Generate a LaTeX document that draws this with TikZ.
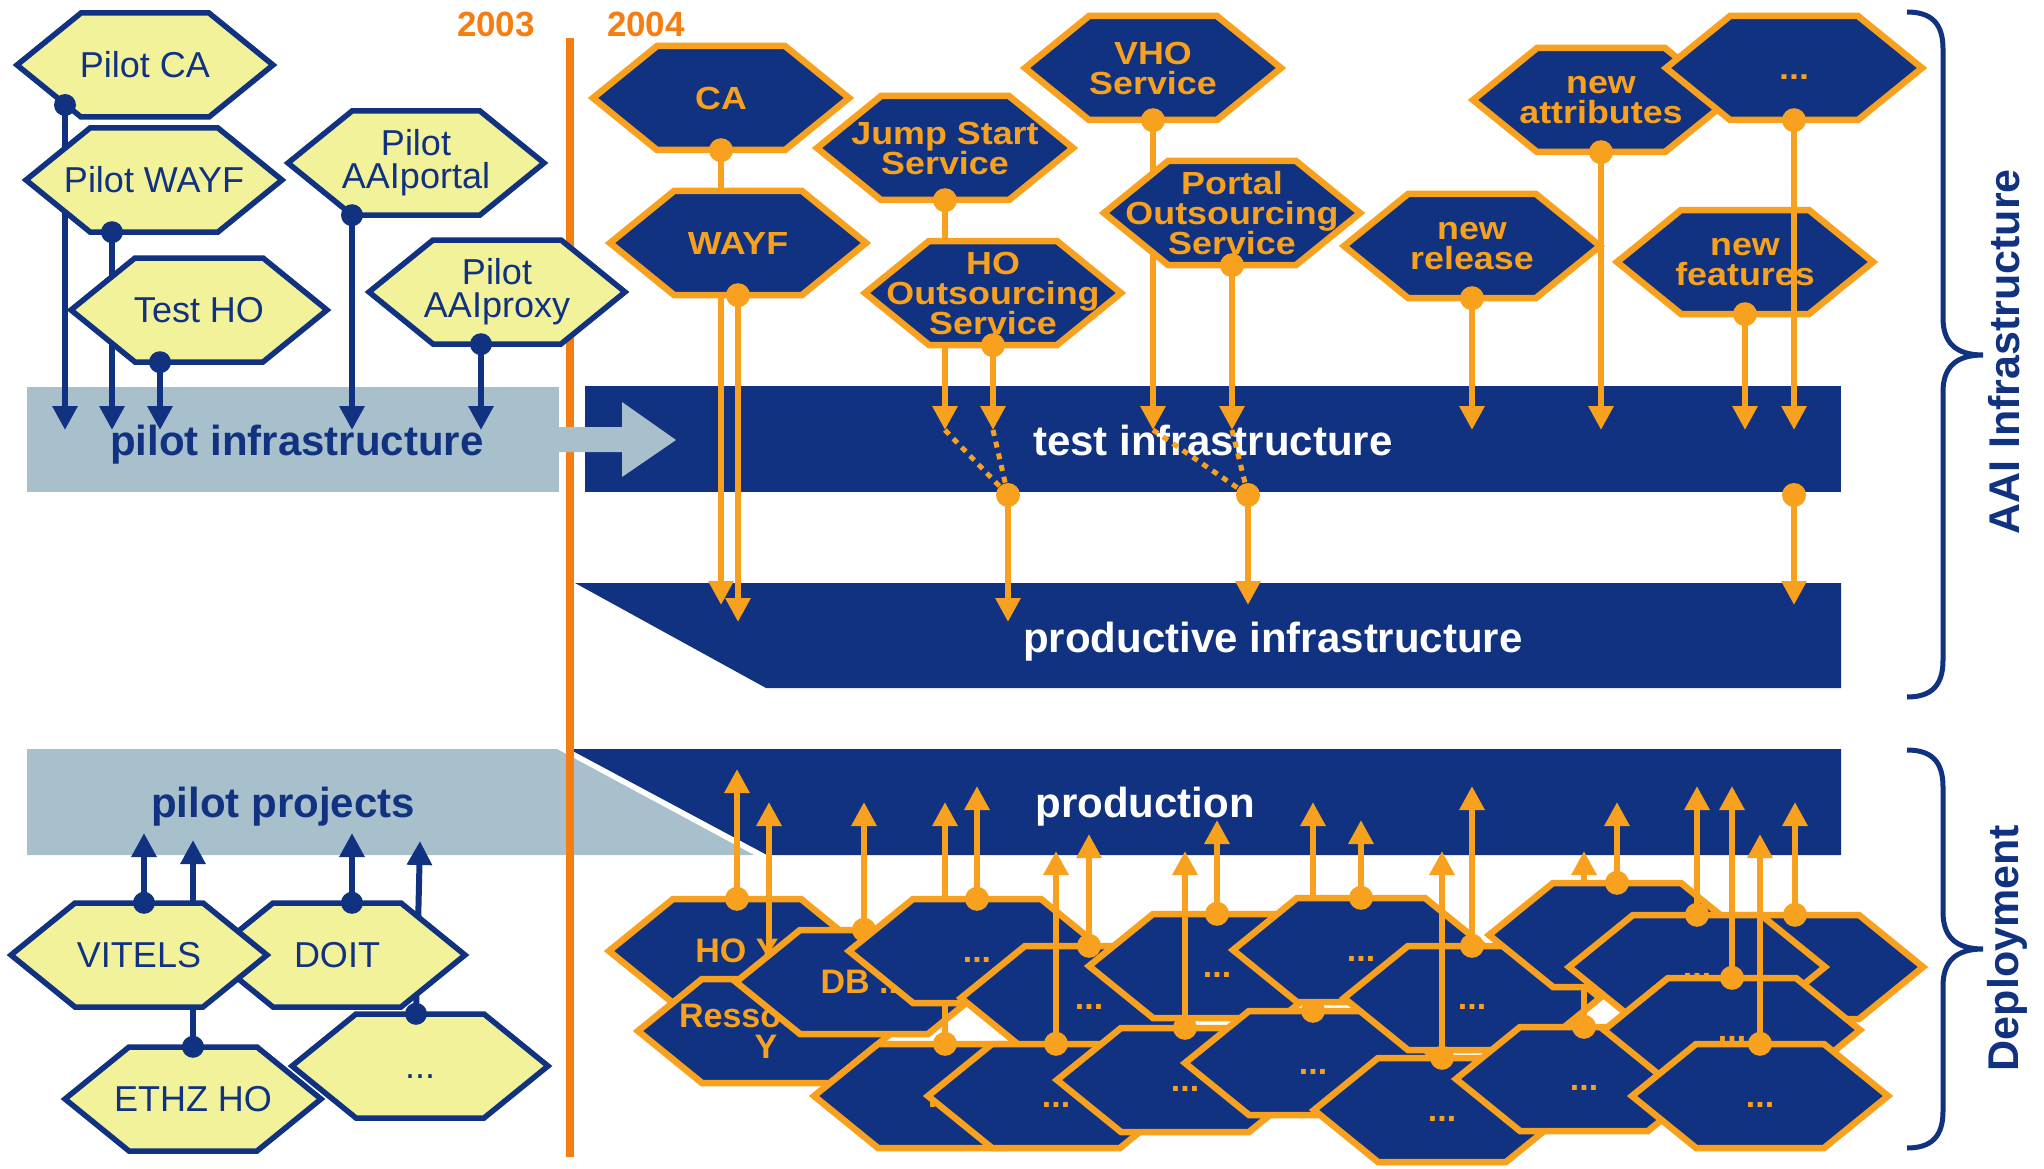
\documentclass[tikz,border=0pt]{standalone}
\usepackage{fontspec}
\setmainfont{Liberation Sans}
\newfontfamily\widesans[FakeStretch=1.12]{Liberation Sans}
\usetikzlibrary{arrows.meta,calc}
\definecolor{dblue}{HTML}{103280}
\definecolor{lband}{HTML}{A8BFCC}
\definecolor{hyellow}{HTML}{F2F29B}
\definecolor{horange}{HTML}{F7A11E}
\definecolor{yorange}{HTML}{F57E12}
\tikzset{
 yhexshape/.style={fill=hyellow, draw=dblue, line width=5.5pt},
 dhexshape/.style={fill=dblue, draw=horange, line width=6.5pt},
 hexbox/.style={inner sep=0pt, minimum width=256pt, minimum height=104pt, align=center},
 ytext/.style={hexbox, text=dblue, font=\fontsize{36}{33}\selectfont},
 dtext/.style={hexbox, text=horange, font=\widesans\bfseries\fontsize{32}{30}\selectfont},
 ctext/.style={hexbox, text=horange, font=\bfseries\fontsize{34}{31}\selectfont},
 bline/.style={draw=dblue, line width=6pt, -{Triangle[length=24pt,width=24pt]}},
 oline/.style={draw=horange, line width=6.5pt, -{Triangle[length=24pt,width=24pt]}},
 odotted/.style={draw=horange, line width=5pt, dash pattern=on 6pt off 6pt},
 bandlabel/.style={font=\bfseries\fontsize{42}{42}\selectfont, inner sep=0pt, anchor=base},
 yearlabel/.style={font=\bfseries\fontsize{35}{35}\selectfont, text=yorange, inner sep=0pt, anchor=base},
 sidelabel/.style={font=\bfseries\fontsize{43}{43}\selectfont, text=dblue, inner sep=0pt, anchor=base, rotate=90},
 bracestyle/.style={draw=dblue, line width=5pt},
}
\newcommand\hexpath[2]{\path[#1] (#2) +(-128,0) -- +(-64,-52) -- +(64,-52) -- +(128,0) -- +(64,52) -- +(-64,52) -- cycle;}
\newcommand\yhex[3]{\hexpath{yhexshape}{#2}\node[ytext] (#1) at (#2) {#3};}
\newcommand\dhex[3]{\hexpath{dhexshape}{#2}\node[dtext] (#1) at (#2) {#3};}
\newcommand\chex[3]{\hexpath{dhexshape}{#2}\node[ctext] (#1) at (#2) {#3};}
\newcommand\bdot[1]{\fill[dblue] (#1) circle[radius=11pt];}
\newcommand\ordot[1]{\fill[horange] (#1) circle[radius=12pt];}
\newcommand\oarr[2]{\draw[oline] (#1) -- (#1 |- #2);\ordot{#1}}
\newcommand\barr[2]{\draw[bline] (#1) -- (#1 |- #2);}
\begin{document}
\begin{tikzpicture}[x=1pt,y=-1pt]
\fill[white] (0,0) rectangle (2044,1169);
\useasboundingbox (0,0) rectangle (2044,1169);
% tip levels
\coordinate (tPI) at (0,430);
\coordinate (tPRa) at (0,605);
\coordinate (tPRb) at (0,622);
\coordinate (tPP) at (0,833);
\coordinate (tPP2) at (0,840);
\coordinate (t769) at (0,769);
\coordinate (t786) at (0,786);
\coordinate (t802) at (0,802);
\coordinate (t820) at (0,820);
\coordinate (t834) at (0,834);
\coordinate (t850) at (0,851);
% bands
\fill[lband] (27,387) rectangle (559,492);
\fill[dblue] (585,386) rectangle (1841,492);
\fill[dblue] (575,583) -- (1841,583) -- (1841,688) -- (766,688) -- cycle;
\fill[lband] (27,749) -- (557,749) -- (754,855) -- (27,855) -- cycle;
\fill[dblue] (569,749) -- (1841,749) -- (1841,855) -- (767,855) -- cycle;
\node[bandlabel, text=dblue] (lpi) at (297,455) {pilot infrastructure};
\node[bandlabel, text=white] (lti) at (1213,455) {test infrastructure};
\node[bandlabel, text=white] (lpri) at (1273,652) {productive infrastructure};
\node[bandlabel, text=white] (lprod) at (1145,817) {production};
\node[bandlabel, text=dblue] (lpp) at (283,817) {pilot projects};
% timeline
\draw[yorange, line width=8pt] (570,38) -- (570,1157);
\fill[lband] (559,427) -- (622,427) -- (622,402) -- (676,440) -- (622,477) -- (622,452) -- (559,452) -- cycle;
\node[yearlabel] (y2003) at (496,37) {2003};
\node[yearlabel] (y2004) at (646,37) {2004};
% pilot hexes
\yhex{pca}{145,65}{Pilot CA}
\coordinate (pcaD) at ($(pca)+(-80,40)$);
\barr{pcaD}{tPI}\bdot{pcaD}
\yhex{pwayf}{154,180}{Pilot WAYF}
\coordinate (pwayfD) at ($(pwayf.south)+(-42,0)$);
\barr{pwayfD}{tPI}\bdot{pwayfD}
\yhex{tho}{199,310}{Test HO}
\coordinate (thoD) at ($(tho.south)+(-39,0)$);
\barr{thoD}{tPI}\bdot{thoD}
\yhex{pportal}{416,163}{Pilot\\AAIportal}
\coordinate (pportalD) at ($(pportal.south)+(-64,0)$);
\barr{pportalD}{tPI}\bdot{pportalD}
\yhex{pproxy}{497,292}{Pilot\\AAIproxy}
\coordinate (pproxyD) at ($(pproxy.south)+(-16,0)$);
\barr{pproxyD}{tPI}\bdot{pproxyD}
% top dark hexes
\dhex{ca}{721,98}{CA}
\coordinate (caD) at (ca.south);
\oarr{caD}{tPRa}
\dhex{wayf}{738,243}{WAYF}
\coordinate (wayfD) at (wayf.south);
\oarr{wayfD}{tPRb}
\dhex{js}{945,148}{Jump Start\\Service}
\coordinate (jsD) at (js.south);
\oarr{jsD}{tPI}
\dhex{hoos}{993,293}{HO\\Outsourcing\\Service}
\coordinate (hoosD) at (hoos.south);
\oarr{hoosD}{tPI}
\dhex{vho}{1153,68}{VHO\\Service}
\coordinate (vhoD) at (vho.south);
\oarr{vhoD}{tPI}
\dhex{pos}{1232,213}{Portal\\Outsourcing\\Service}
\coordinate (posD) at (pos.south);
\oarr{posD}{tPI}
\dhex{nrel}{1472,246}{new\\release}
\coordinate (nrelD) at (nrel.south);
\oarr{nrelD}{tPI}
\dhex{nattr}{1601,100}{new\\attributes}
\coordinate (nattrD) at (nattr.south);
\oarr{nattrD}{tPI}
\dhex{more}{1794,68}{\vphantom{H}...}
\dhex{nfeat}{1745,262}{new\\features}
\coordinate (moreD) at (more.south);
\oarr{moreD}{tPI}
\coordinate (nfeatD) at (nfeat.south);
\oarr{nfeatD}{tPI}
% test -> productive
\coordinate (m1) at (1008,495);
\coordinate (m2) at (1248,495);
\coordinate (m3) at (1794,495);
\draw[odotted] (jsD |- tPI) -- (m1);
\draw[odotted] (hoosD |- tPI) -- (m1);
\draw[odotted] (vhoD |- tPI) -- (m2);
\draw[odotted] (posD |- tPI) -- (m2);
\oarr{m1}{tPRb}
\oarr{m2}{tPRa}
\oarr{m3}{tPRa}
% pilot projects
\yhex{ethz}{193,1099}{ETHZ HO}
\coordinate (ethzD) at (ethz.north);
\barr{ethzD}{tPP2}
\yhex{ppmore}{420,1066}{\vphantom{H}...}
\coordinate (ppmoreD) at ($(ppmore.north)+(-4,0)$);
\coordinate (ppmoreT) at (420,841);
\draw[bline] (ppmoreD) -- (ppmoreT);
\yhex{doit}{337,955}{DOIT}
\coordinate (doitD) at ($(doit.north)+(15,0)$);
\barr{doitD}{tPP}
\yhex{vitels}{139,955}{VITELS}
\coordinate (vitelsD) at ($(vitels.north)+(5,0)$);
\barr{vitelsD}{tPP}
\bdot{ethzD}\bdot{ppmoreD}\bdot{doitD}\bdot{vitelsD}
% deployment cluster
\chex{cho}{737,951}{HO Y}
\coordinate (choD) at (cho.north);
\oarr{choD}{t769}
\coordinate (hoyD) at ($(cho)+(32,-1)$);
\draw[oline] (hoyD) -- (hoyD |- t802);
\chex{cres}{766,1031}{Ressource\\Y}
\chex{cdb}{864,982}{DB ...}
\coordinate (cdbD) at (cdb.north);
\oarr{cdbD}{t802}
\chex{cf}{942,1096}{\vphantom{H}...}
\coordinate (cfD) at ($(cf.north)+(3,0)$);
\oarr{cfD}{t802}
\chex{cd}{977,951}{\vphantom{H}...}
\coordinate (cdD) at (cd.north);
\oarr{cdD}{t786}
\chex{cg}{1089,998}{\vphantom{H}...}
\coordinate (cgD) at (cg.north);
\oarr{cgD}{t834}
\chex{ce}{1056,1096}{\vphantom{H}...}
\coordinate (ceD) at (ce.north);
\oarr{ceD}{t850}
\chex{ch}{1217,966}{\vphantom{H}...}
\coordinate (chD) at (ch.north);
\oarr{chD}{t820}
\chex{ck}{1185,1080}{\vphantom{H}...}
\coordinate (ckD) at (ck.north);
\oarr{ckD}{t850}
\chex{cj}{1313,1063}{\vphantom{H}...}
\coordinate (cjD) at (cj.north);
\oarr{cjD}{t802}
\chex{ci}{1361,950}{\vphantom{H}...}
\coordinate (ciD) at (ci.north);
\oarr{ciD}{t820}
\chex{cl}{1472,998}{\vphantom{H}...}
\coordinate (clD) at (cl.north);
\oarr{clD}{t786}
\chex{cm}{1442,1110}{\vphantom{H}...}
\coordinate (cmD) at (cm.north);
\oarr{cmD}{t850}
\chex{co}{1584,1079}{\vphantom{H}...}
\coordinate (coD) at (co.north);
\oarr{coD}{t850}
\chex{cn}{1617,935}{\vphantom{H}...}
\coordinate (cnD) at (cn.north);
\oarr{cnD}{t802}
\chex{cq}{1795,967}{\vphantom{H}...}
\coordinate (cqD) at (cq.north);
\oarr{cqD}{t802}
\chex{cp}{1697,967}{\vphantom{H}...}
\coordinate (cpD) at (cp.north);
\oarr{cpD}{t786}
\chex{cr}{1732,1030}{\vphantom{H}...}
\coordinate (crD) at (cr.north);
\oarr{crD}{t786}
\chex{cs}{1760,1096}{\vphantom{H}...}
\coordinate (csD) at (cs.north);
\oarr{csD}{t834}
% braces
\draw[bracestyle] (1907,12) .. controls (1932,12) and (1943,24) .. (1943,49) -- (1943,318) .. controls (1943,342) and (1955,355) .. (1983,355) .. controls (1955,355) and (1943,368) .. (1943,392) -- (1943,660) .. controls (1943,685) and (1932,697) .. (1907,697);
\draw[bracestyle] (1907,750) .. controls (1932,750) and (1943,762) .. (1943,787) -- (1943,912) .. controls (1943,936) and (1955,949) .. (1983,949) .. controls (1955,949) and (1943,962) .. (1943,986) -- (1943,1111) .. controls (1943,1136) and (1932,1148) .. (1907,1148);
\node[sidelabel] (aailbl) at (2019,352) {AAI Infrastructure};
\node[sidelabel] (deplbl) at (2018,948) {Deployment};
\end{tikzpicture}
\end{document}
